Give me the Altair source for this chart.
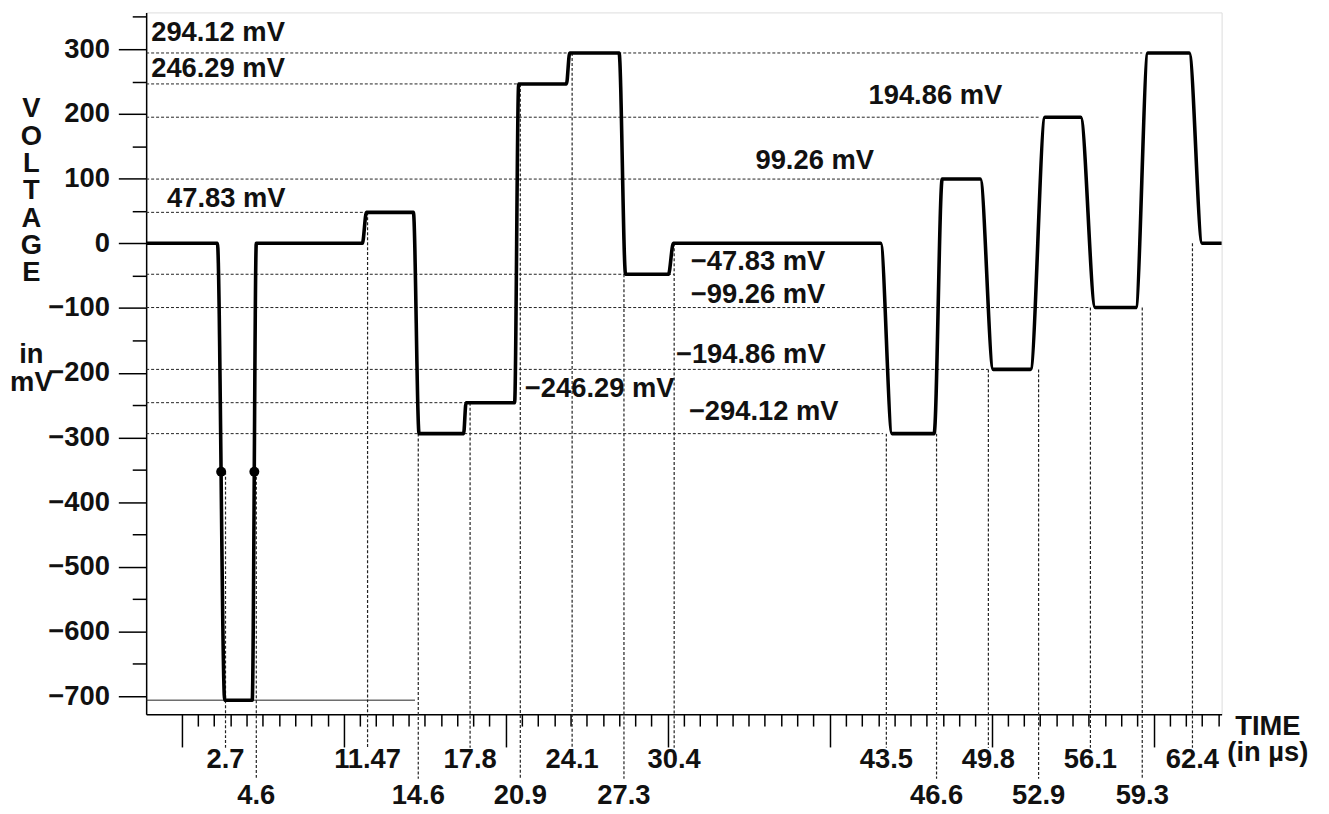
import altair as alt
import pandas as pd

# ---------------- data ----------------
X_MIN, X_MAX = -2.2, 64.2
Y_MIN, Y_MAX = -727.6, 356.8

# waveform corners (time in µs, voltage in mV)
wave_t = [-2.2, 2.2, 2.65, 4.35, 4.6, 11.15, 11.4, 14.3, 14.65, 17.4, 17.55,
          20.55, 20.8, 23.75, 23.95, 27.0, 27.4, 30.05, 30.35, 43.15, 43.85,
          46.45, 46.95, 49.3, 50.1, 52.4, 53.3, 55.5, 56.4, 58.9, 59.65,
          62.2, 63.0, 64.2]
wave_v = [0, 0, -706, -706, 0, 0, 47.83, 47.83, -294.12, -294.12, -246.29,
          -246.29, 246.29, 246.29, 294.12, 294.12, -47.83, -47.83, 0, 0, -294.12,
          -294.12, 99.26, 99.26, -194.86, -194.86, 194.86, 194.86, -99.26, -99.26, 294.12,
          294.12, 0, 0]

# half-amplitude markers on the first pulse
dot_t = [2.43, 4.48]
dot_v = [-353, -353]

# dotted reference levels and where each stops
level_v = [294.12, 246.29, 194.86, 99.26, 47.83, -47.83, -99.26, -194.86, -246.29, -294.12]
level_end = [59.3, 20.8, 52.9, 47.4, 11.2, 30.4, 56.1, 49.8, 17.55, 43.3]

# solid base line of the negative pulse
base_v = [-706]
base_end = [14.4]

# level annotations
ann_text = ["294.12 mV", "246.29 mV", "47.83 mV", "99.26 mV", "194.86 mV",
            "\u221247.83 mV", "\u221299.26 mV", "\u2212194.86 mV", "\u2212246.29 mV", "\u2212294.12 mV"]
ann_t = [-1.89, -1.89, -0.91, 35.42, 42.4, 31.43, 31.43, 30.51, 21.18, 31.31]
ann_v = [312.3, 256.5, 55.8, 115.6, 215.5, -41.0, -91.7, -185.4, -237.6, -273.0]

# marked time instants
time_labels = ["2.7", "4.6", "11.47", "14.6", "17.8", "20.9", "24.1", "27.3", "30.4",
               "43.5", "46.6", "49.8", "52.9", "56.1", "59.3", "62.4"]
time_t = [2.7, 4.6, 11.47, 14.6, 17.8, 20.9, 24.1, 27.3, 30.4,
          43.5, 46.6, 49.8, 52.9, 56.1, 59.3, 62.4]
time_row = [1, 2, 1, 2, 1, 2, 1, 2, 1, 1, 2, 1, 2, 1, 2, 1]
time_top = [-353, -353, 47.83, -294.12, -246.29, 246.29, 294.12, -47.83, 0,
            -294.12, -294.12, -194.86, -194.86, -99.26, -99.26, 0]
row_label_v = {1: -810.5, 2: -867.0}
row_line_end = {1: -779.7, 2: -827.4}

# ---------------- frames ----------------
wave = pd.DataFrame({"t": wave_t, "v": wave_v})
dots = pd.DataFrame({"t": dot_t, "v": dot_v})
levels = pd.DataFrame({"t0": [X_MIN] * len(level_v), "t1": level_end, "v": level_v})
base = pd.DataFrame({"t0": [X_MIN], "t1": base_end, "v": base_v})
ann = pd.DataFrame({"t": ann_t, "v": ann_v, "label": ann_text})
times = pd.DataFrame({
    "t": time_t,
    "label": time_labels,
    "top": time_top,
    "bottom": [row_line_end[r] for r in time_row],
    "lv": [row_label_v[r] for r in time_row],
})

FONT = "Liberation Sans"
FS = 27.5
INK = "#111"
BLANK1 = "\u2800"
BLANK2 = "\u2800\u2800"

xscale = alt.Scale(domain=[X_MIN, X_MAX], nice=False, zero=False)
yscale = alt.Scale(domain=[Y_MIN, Y_MAX], nice=False, zero=False)

common_axis = dict(
    grid=False, domainColor="black", domainWidth=1.5, tickColor="black", tickWidth=1.5,
    labelFont=FONT, labelFontSize=FS, labelFontWeight="bold", labelColor=INK,
    titleFont=FONT, titleFontSize=FS, titleFontWeight="bold", titleColor=INK,
    titleAngle=0, titleAlign="center", titleBaseline="alphabetic",
)

xaxis = alt.Axis(
    values=list(range(0, 65)),
    labels=False,
    tickSize={"condition": {"test": "datum.value % 10 === 0", "value": 33}, "value": 12},
    title=["TIME", "(in \u00b5s)"],
    titleX=1128, titleY=20, titleLineHeight=27,
    **common_axis,
)
yaxis = alt.Axis(
    values=list(range(-700, 351, 50)),
    labelExpr="datum.value % 100 === 0 ? datum.label : ''",
    labelOverlap=False,
    labelPadding=9,
    tickSize={"condition": {"test": "datum.value % 100 === 0", "value": 28}, "value": 14},
    title=["V", "O", "L", "T", "A", "G", "E", BLANK1, BLANK2, "in", "mV"],
    titleX=-116, titleY=105, titleLineHeight=27.5,
    **common_axis,
)


def X(f):
    return alt.X(f, type="quantitative", scale=xscale, axis=xaxis)


def Y(f):
    return alt.Y(f, type="quantitative", scale=yscale, axis=yaxis)


dash = [3, 2]

level_rules = alt.Chart(levels).mark_rule(strokeDash=dash, strokeWidth=1, color="#222").encode(
    x=X("t0"), x2="t1", y=Y("v"))
base_rule = alt.Chart(base).mark_rule(strokeWidth=1, color="#222").encode(
    x=X("t0"), x2="t1", y=Y("v"))
vert_rules = alt.Chart(times).mark_rule(strokeDash=dash, strokeWidth=1.2, color="#222").encode(
    x=X("t"), y=Y("top"), y2="bottom")
line = alt.Chart(wave).mark_line(color="black", strokeWidth=3.6, interpolate="monotone",
                                 strokeJoin="round").encode(x=X("t"), y=Y("v"))
pts = alt.Chart(dots).mark_circle(color="black", size=100, opacity=1).encode(x=X("t"), y=Y("v"))
ann_text_layer = alt.Chart(ann).mark_text(align="left", baseline="alphabetic", font=FONT,
                                          fontSize=FS, fontWeight="bold", color=INK).encode(
    x=X("t"), y=Y("v"), text="label")
time_text = alt.Chart(times).mark_text(align="center", baseline="alphabetic", font=FONT,
                                       fontSize=FS, fontWeight="bold", color=INK).encode(
    x=X("t"), y=Y("lv"), text="label")

chart = alt.layer(
    level_rules, base_rule, vert_rules, line, pts, ann_text_layer, time_text
).properties(
    width=1082, height=706,
    autosize=alt.AutoSizeParams(type="none"),
    padding={"left": 139, "top": 2, "right": 100, "bottom": 95},
).configure_view(
    stroke="black", strokeWidth=1.5
).configure(background="white")

chart.save("out.html", embed_options={"renderer": "svg", "actions": False})
